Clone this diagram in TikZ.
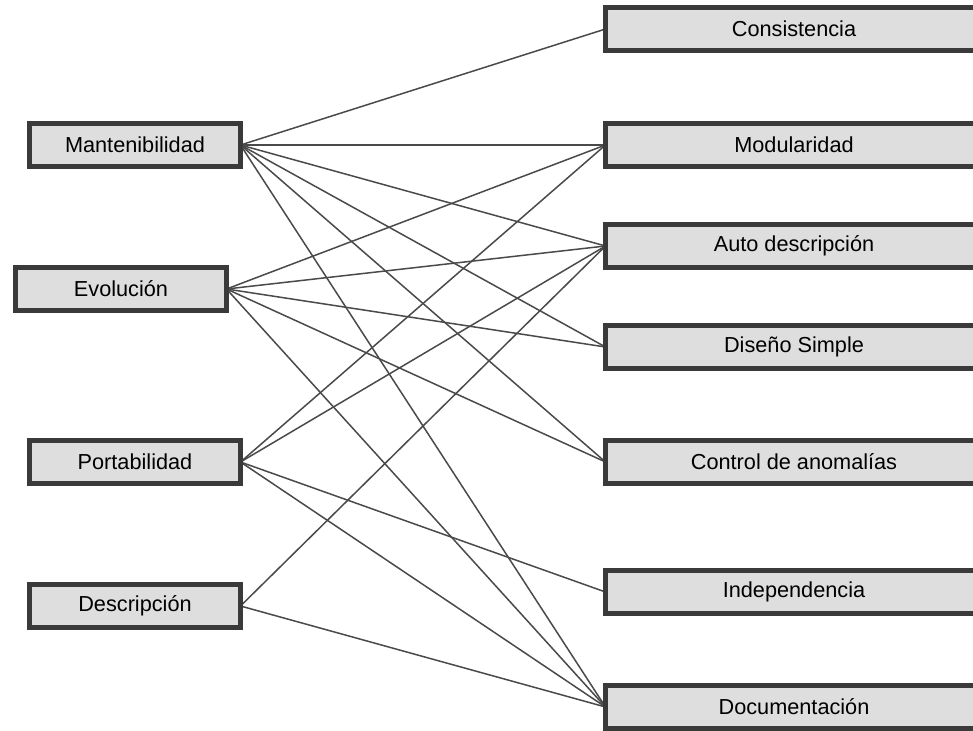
\documentclass[tikz,border=0pt]{standalone}
\usepackage{fontspec}
\setmainfont{Liberation Sans}
\usetikzlibrary{backgrounds}
\definecolor{boxfill}{HTML}{DEDEDE}
\definecolor{boxline}{HTML}{3A3A3A}
\definecolor{linkline}{HTML}{4A4A4A}
\begin{document}
\begin{tikzpicture}[x=1pt,y=-1pt,
  factor/.style={draw=boxline, line width=4.5pt, fill=boxfill, minimum width=211pt,
    minimum height=43pt, inner sep=0pt, outer sep=0pt, font=\fontsize{21.7}{24}\selectfont},
  criterio/.style={factor, minimum width=377pt},
  link/.style={draw=linkline, line width=1.5pt}]
\useasboundingbox (0,0) rectangle (973,730);
\clip (0,0) rectangle (973,730);
% left
\node[factor] (mant) at (135,145) {Mantenibilidad};
\node[factor] (evol) at (121,289) {Evolución};
\node[factor] (port) at (135,462) {Portabilidad};
\node[factor] (desc) at (135,606) {Descripción};
% right
\node[criterio] (cons) at (794,29) {Consistencia};
\node[criterio] (modu) at (794,145) {Modularidad};
\node[criterio] (auto) at (794,246) {Auto descripción};
\node[criterio] (dise) at (794,347) {Diseño Simple};
\node[criterio] (cont) at (794,462) {Control de anomalías};
\node[criterio] (inde) at (794,592) {Independencia};
\node[criterio] (docu) at (794,707) {Documentación};
\begin{pgfonlayer}{background}
\foreach \t in {cons,modu,auto,dise,cont,docu} \draw[link] (mant.east) -- (\t.west);
\foreach \t in {modu,auto,dise,cont,docu} \draw[link] (evol.east) -- (\t.west);
\foreach \t in {modu,auto,inde,docu} \draw[link] (port.east) -- (\t.west);
\foreach \t in {auto,docu} \draw[link] (desc.east) -- (\t.west);
\end{pgfonlayer}
\end{tikzpicture}
\end{document}
